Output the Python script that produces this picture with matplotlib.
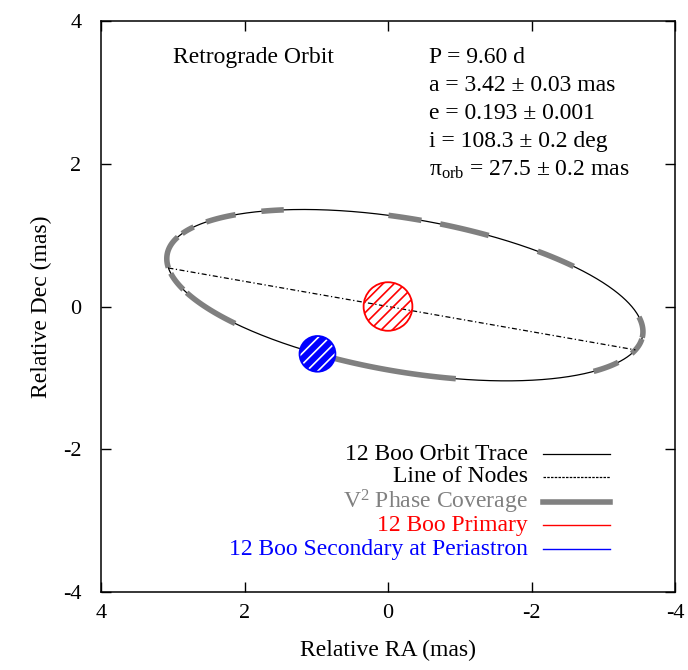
import numpy as np
import matplotlib
matplotlib.use("Agg")
import matplotlib.pyplot as plt
from matplotlib.patches import Circle

plt.rcParams['font.family'] = ['Liberation Serif', 'DejaVu Serif']
plt.rcParams['mathtext.fontset'] = 'custom'
plt.rcParams['mathtext.rm'] = 'Liberation Serif'
plt.rcParams['mathtext.it'] = 'Liberation Serif:italic'
plt.rcParams['axes.unicode_minus'] = False
plt.rcParams['hatch.linewidth'] = 1.2

# orbital elements (P, a, e, i, parallax from the panel; node / periastron angles)
period_d = 9.60
a_mas = 3.42
ecc = 0.193
incl_deg = 108.3
node_deg = 80.0
peri_deg = 288.0
plx_orb = 27.5

# orbital phase ranges (from periastron) covered by V^2 data
cov_start = [0.054, 0.108, 0.145, 0.217, 0.253, 0.311, 0.416, 0.457, 0.541, 0.687, 0.735, 0.794, 0.923]
cov_end = [0.103, 0.135, 0.208, 0.236, 0.286, 0.331, 0.442, 0.497, 0.578, 0.732, 0.770, 0.824, 0.991]

# star sizes (mas)
primary_radius = 0.34
secondary_radius = 0.25

ticks = [4, 2, 0, -2, -4]

legend_labels = ["12 Boo Orbit Trace", "Line of Nodes", r"V$^{2}$ Phase Coverage",
                 "12 Boo Primary", "12 Boo Secondary at Periastron"]
legend_colors = ["black", "black", "#808080", "red", "blue"]


# Thiele-Innes constants
w = np.radians(peri_deg)
W = np.radians(node_deg)
ci = np.cos(np.radians(incl_deg))
A = a_mas * (np.cos(w) * np.cos(W) - np.sin(w) * np.sin(W) * ci)
B = a_mas * (np.cos(w) * np.sin(W) + np.sin(w) * np.cos(W) * ci)
F = a_mas * (-np.sin(w) * np.cos(W) - np.cos(w) * np.sin(W) * ci)
G = a_mas * (-np.sin(w) * np.sin(W) + np.cos(w) * np.cos(W) * ci)


def orbit_pos(phase):
    # solve Kepler's equation, return (RA, Dec) offsets in mas
    M = 2 * np.pi * np.asarray(phase, dtype=float)
    E = M.copy()
    for _ in range(30):
        E = E - (E - ecc * np.sin(E) - M) / (1 - ecc * np.cos(E))
    X = np.cos(E) - ecc
    Y = np.sqrt(1 - ecc ** 2) * np.sin(E)
    return B * X + G * Y, A * X + F * Y


fig = plt.figure(figsize=(6.88, 6.70), dpi=100)
ax = fig.add_axes([101 / 688, 1 - 592 / 670, 574 / 688, 571 / 670])

# orbit trace
ra, dec = orbit_pos(np.linspace(0, 1, 721))
ax.plot(ra, dec, color="black", lw=0.9, zorder=2)

# phase coverage
for p0, p1 in zip(cov_start, cov_end):
    r_, d_ = orbit_pos(np.linspace(p0, p1, 60))
    ax.plot(r_, d_, color="#808080", lw=4.0, solid_capstyle="butt", zorder=3)

# line of nodes
nus = np.array([-w, np.pi - w])
rr = a_mas * (1 - ecc ** 2) / (1 + ecc * np.cos(nus))
ax.plot(rr * np.sin(W) * np.array([1, -1]), rr * np.cos(W) * np.array([1, -1]),
        color="black", lw=0.9, ls=(0, (4, 2, 1, 2)), zorder=4)

# primary at origin
ax.add_patch(Circle((0, 0), primary_radius, facecolor="none", edgecolor="red",
                    hatch="///", lw=1.3, zorder=5))

# secondary at periastron
px, py = orbit_pos(0.0)
ax.add_patch(Circle((px, py), secondary_radius, facecolor="blue", edgecolor="white",
                    hatch="///", lw=0, zorder=5))
ax.add_patch(Circle((px, py), secondary_radius, facecolor="none", edgecolor="blue",
                    lw=1.3, zorder=6))

ax.set_xlim(4, -4)
ax.set_ylim(-4, 4)
ax.set_xticks(ticks)
ax.set_yticks(ticks)
ax.tick_params(direction="in", top=True, right=True, length=7, width=1,
               labelsize=16, pad=9)
ax.tick_params(axis="y", pad=14)
for s in ax.spines.values():
    s.set_linewidth(1.1)
ax.set_xlabel("Relative RA (mas)", fontsize=17, labelpad=12)
ax.set_ylabel("Relative Dec (mas)", fontsize=17, labelpad=8)

# annotation text
ax.text(0.125, 0.927, "Retrograde Orbit", transform=ax.transAxes, fontsize=17)
params = [
    "P = %.2f d" % period_d,
    "a = %.2f ± 0.03 mas" % a_mas,
    "e = %.3f ± 0.001" % ecc,
    "i = %.1f ± 0.2 deg" % incl_deg,
    r"$\mathrm{\pi}_{\mathrm{orb}}$ = %.1f ± 0.2 mas" % plx_orb,
]
for k, t in enumerate(params):
    ax.text(0.572, 0.927 - k * 0.0495, t, transform=ax.transAxes, fontsize=17)

# legend (gnuplot style: right-aligned text, sample on the right)
leg_y = [0.241, 0.202, 0.158, 0.117, 0.075]
styles = [dict(lw=0.9, ls="-"), dict(lw=0.9, ls=(0, (2, 1))), dict(lw=4.0, ls="-"),
          dict(lw=1.0, ls="-"), dict(lw=1.0, ls="-")]
for lab, col, yy, st in zip(legend_labels, legend_colors, leg_y, styles):
    ax.text(0.744, yy, lab, transform=ax.transAxes, ha="right", va="center",
            fontsize=17, color=col)
    ax.plot([0.770, 0.887], [yy, yy], transform=ax.transAxes, color=col, **st)

fig.savefig("out.png", dpi=100)
